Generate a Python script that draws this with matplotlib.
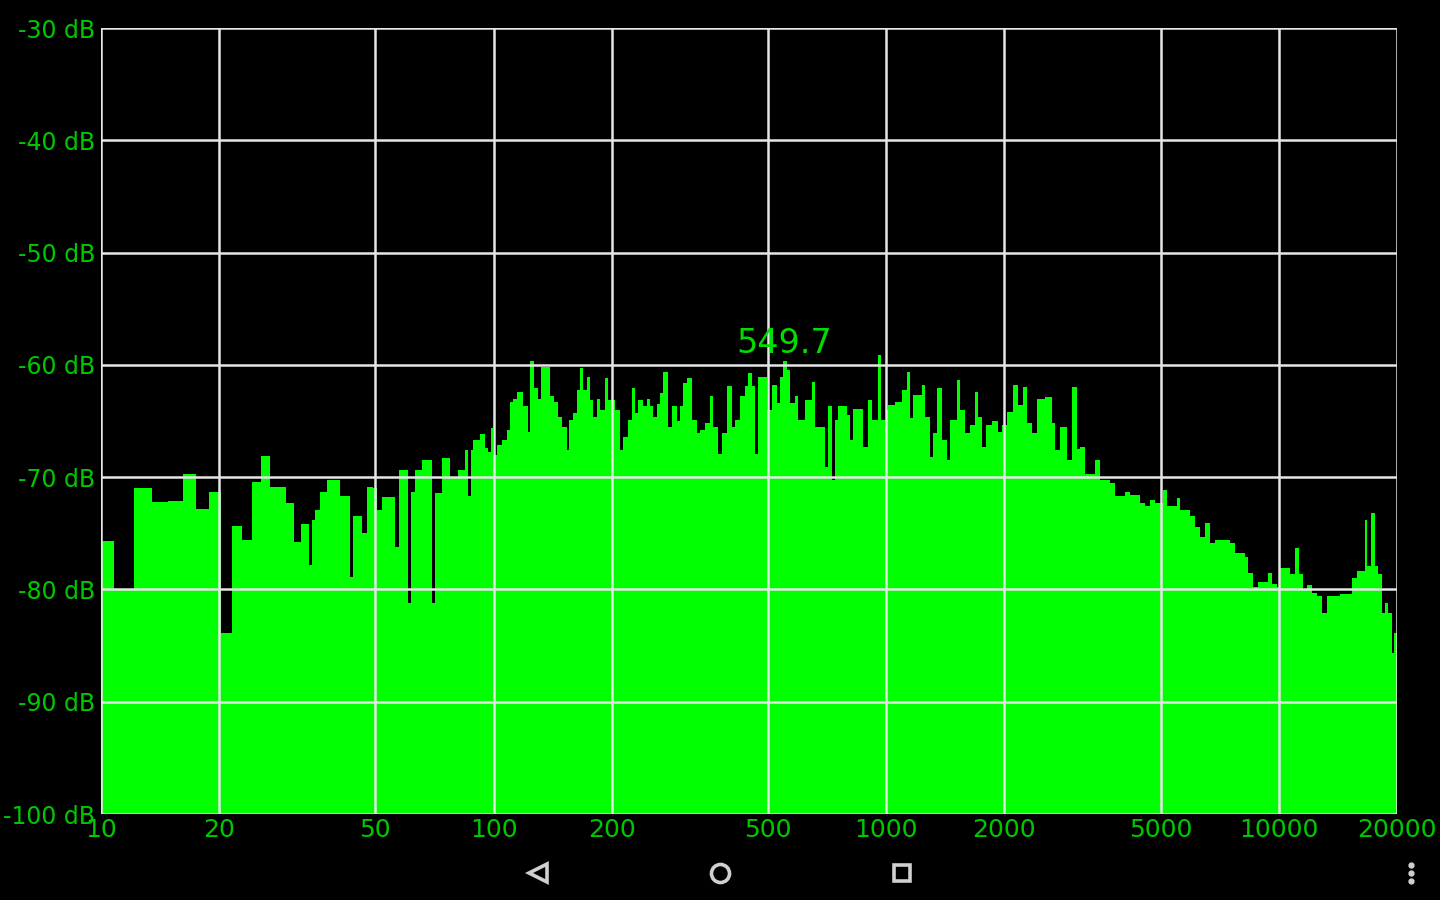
import matplotlib
matplotlib.use("Agg")
import matplotlib.pyplot as plt
from matplotlib.lines import Line2D

# ---- data ----
freq_hz = [10, 10.77, 12.11, 13.46, 14.80, 16.15, 17.50, 18.84, 20.19, 21.53, 22.88, 24.22, 25.57,
           26.92, 28.26, 29.61, 30.95, 32.30, 33.93, 34.53, 35.08, 36.14, 37.57, 40.62, 43.07, 43.76,
           46.13, 47.67, 49.20, 50.37, 51.88, 56.10, 57.33, 60.63, 61.49, 63.07, 65.58, 69.55, 70.91,
           73.76, 77.43, 81.31, 84.56, 86.22, 87.44, 88.78, 92.33, 95.08, 96.94, 98.49, 99.82, 101.8,
           104.9, 108.0, 110.1, 112.2, 114.5, 119.0, 122.6, 123.8, 126.7, 130.0, 131.8, 139.2, 142.5,
           146.2, 149.1, 153.6, 155.9, 159.6, 162.8, 166.0, 169.2, 172.7, 176.1, 179.5, 183.8, 186.6,
           192.2, 196.0, 203.8, 209.9, 214.0, 220.3, 224.8, 229.2, 233.7, 240.6, 245.5, 250.3, 255.2,
           260.3, 265.4, 270.6, 278.6, 284.3, 292.7, 298.4, 304.3, 310.4, 319.6, 329.1, 335.6, 345.6,
           355.9, 362.9, 373.7, 381.1, 392.5, 404.2, 412.1, 424.3, 437.0, 445.5, 454.4, 463.3, 472.3,
           496.2, 510.9, 526.2, 536.5, 547.0, 557.8, 568.9, 585.8, 597.3, 621.1, 646.0, 658.6, 698.4,
           712.0, 726.4, 740.6, 755.1, 793.3, 808.8, 824.6, 874.5, 900.5, 918.7, 954.8, 970.0, 1003,
           1013, 1053, 1095, 1128, 1150, 1172, 1231, 1255, 1293, 1318, 1345, 1385, 1426, 1454, 1512,
           1542, 1587, 1635, 1684, 1716, 1751, 1796, 1857, 1930, 1969, 2027, 2107, 2170, 2235, 2280,
           2348, 2418, 2539, 2641, 2692, 2772, 2883, 2969, 3058, 3115, 3209, 3402, 3504, 3716, 3826,
           4058, 4178, 4431, 4562, 4699, 4838, 5080, 5183, 5495, 5602, 5941, 6119, 6301, 6490, 6679,
           6880, 7512, 7736, 7965, 8202, 8360, 8611, 8867, 9404, 9593, 9876, 10071, 10680, 11000,
           11279, 11546, 11780, 12129, 12490, 12863, 13243, 14320, 15340, 15790, 16585, 16810, 17150,
           17580, 17920, 18285, 18640, 19010, 19390, 19650, 20000]

level_db = [-75.7, -80.0, -71.0, -72.2, -72.1, -69.75, -72.8, -71.3, -83.85, -74.35, -75.6, -70.4, -68.1,
            -70.85, -70.9, -72.3, -75.75, -74.2, -77.8, -73.8, -72.9, -71.3, -70.25, -71.7, -78.9, -73.5,
            -75.0, -70.85, -71.0, -72.9, -71.8, -76.2, -69.4, -81.2, -71.3, -69.4, -68.5, -81.2, -71.4,
            -68.3, -69.95, -69.35, -67.6, -71.7, -67.6, -66.7, -66.2, -67.4, -67.8, -65.65, -68.0, -67.1,
            -66.7, -65.8, -63.3, -63.0, -62.4, -63.7, -66.0, -59.7, -62.1, -63.0, -60.2, -62.8, -63.3,
            -64.6, -65.5, -67.6, -64.9, -64.3, -62.2, -60.3, -62.2, -61.05, -63.1, -64.6, -63.0, -64.0,
            -61.2, -63.1, -64.0, -67.6, -66.4, -64.9, -62.1, -64.3, -63.1, -63.7, -63.0, -63.7, -64.6,
            -63.5, -62.5, -60.6, -65.5, -63.7, -65.0, -63.7, -61.65, -61.2, -64.9, -66.1, -65.8, -65.2,
            -62.8, -65.5, -67.9, -66.1, -61.9, -65.5, -64.9, -62.8, -61.9, -60.75, -61.9, -67.9, -61.05,
            -64.0, -61.8, -63.4, -61.05, -59.7, -60.5, -63.4, -62.8, -64.9, -63.1, -61.5, -65.5, -69.1,
            -63.7, -70.25, -64.9, -63.7, -64.5, -66.7, -63.9, -67.3, -63.1, -64.9, -59.1, -64.9, -64.0,
            -63.6, -63.3, -62.2, -60.6, -64.75, -62.7, -61.8, -64.6, -68.2, -66.1, -62.1, -66.7, -68.5, -64.9,
            -61.35, -64.0, -66.1, -65.35, -62.4, -64.6, -67.3, -65.35, -65.0, -66.0, -65.35, -64.2, -61.8,
            -63.6, -62.0, -65.2, -66.1, -63.0, -62.9, -65.2, -67.6, -65.5, -68.5, -62.0, -67.5, -67.3,
            -69.7, -68.5, -70.25, -70.55, -71.7, -71.3, -71.6, -72.3, -72.6, -72.0, -72.3, -71.15, -72.6,
            -71.9, -72.9, -73.5, -74.4, -75.3, -74.1, -75.9, -75.6, -75.9, -76.8, -76.8, -77.1, -78.55,
            -79.75, -79.3, -78.55, -79.5, -79.8, -78.1, -78.6, -76.3, -78.6, -80.05, -79.6, -80.35, -80.6,
            -82.1, -80.6, -80.45, -79.0, -78.4, -73.8, -77.9, -73.2, -77.9, -78.6, -82.1, -81.2, -82.1,
            -85.7, -83.9]

x_ticks = [10, 20, 50, 100, 200, 500, 1000, 2000, 5000, 10000, 20000]
x_labels = ["10", "20", "50", "100", "200", "500", "1000", "2000", "5000", "10000", "20000"]
y_ticks = [-100, -90, -80, -70, -60, -50, -40, -30]
y_labels = ["-100 dB", "-90 dB", "-80 dB", "-70 dB", "-60 dB", "-50 dB", "-40 dB", "-30 dB"]
peak_freq = 549.7
peak_label = "549.7"

# ---- figure ----
fig = plt.figure(figsize=(14.4, 9.0), dpi=100, facecolor="black")
ax = fig.add_axes([101 / 1440, 1 - 814 / 900, 1296 / 1440, 786 / 900])
ax.set_facecolor("black")
ax.set_xscale("log")
ax.set_xlim(10, 20000)
ax.set_ylim(-100, -30)

ax.stairs(level_db, freq_hz, fill=True, baseline=-100, color="#00ff00", zorder=2)

grid_col = "#e6e6e6"
for xt in x_ticks:
    ax.axvline(xt, color=grid_col, lw=1.8, zorder=3)
for yt in y_ticks:
    ax.axhline(yt, color=grid_col, lw=1.8, zorder=3)
for s in ax.spines.values():
    s.set_visible(False)

ax.set_xticks(x_ticks)
ax.set_xticklabels(x_labels)
ax.xaxis.set_minor_locator(matplotlib.ticker.NullLocator())
ax.set_yticks(y_ticks)
ax.set_yticklabels(y_labels)
lab_col = "#00c800"
ax.tick_params(axis="x", length=0, pad=3, labelsize=18, labelcolor=lab_col)
ax.tick_params(axis="y", length=0, pad=4, labelsize=17, labelcolor=lab_col)

ax.text(peak_freq, -59.6, peak_label, color="#00dd00", fontsize=24, ha="center", va="bottom", zorder=4)

# android navigation bar
nav_col = "#d0d0d0"
ny = 1 - 873 / 900
fig.add_artist(Line2D([538 / 1440], [ny], transform=fig.transFigure, marker="<", markersize=13,
                      markerfacecolor="none", markeredgecolor=nav_col, markeredgewidth=2.6, linestyle="none"))
fig.add_artist(Line2D([720 / 1440], [ny], transform=fig.transFigure, marker="o", markersize=13,
                      markerfacecolor="none", markeredgecolor=nav_col, markeredgewidth=2.6, linestyle="none"))
fig.add_artist(Line2D([902 / 1440], [ny], transform=fig.transFigure, marker="s", markersize=12,
                      markerfacecolor="none", markeredgecolor=nav_col, markeredgewidth=2.6, linestyle="none"))
fig.add_artist(Line2D([1411 / 1440] * 3, [1 - 865 / 900, ny, 1 - 881 / 900], transform=fig.transFigure,
                      marker="o", markersize=3.5, color=nav_col, linestyle="none"))

fig.savefig("out.png", dpi=100, facecolor="black")
